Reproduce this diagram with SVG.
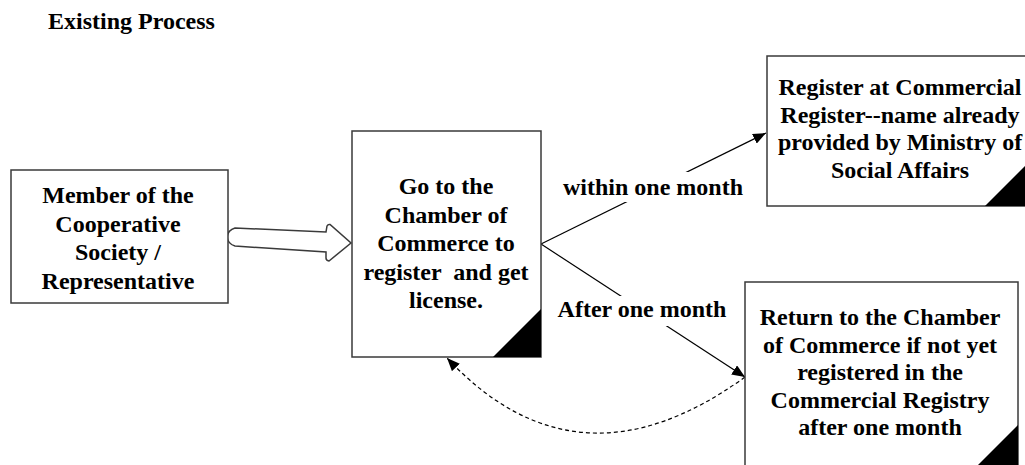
<svg xmlns="http://www.w3.org/2000/svg" width="1025" height="465" viewBox="0 0 1025 465">
  <style>
    text { font-family: "Liberation Serif", Tinos, "Times New Roman", Times, "DejaVu Serif", serif; font-weight: 700; fill: #000; }
    .t { font-size: 24px; text-anchor: middle; white-space: pre; }
    .title { font-size: 24px; }
    .box { fill: #fff; stroke: #3a3a3a; stroke-width: 1.5; }
    .fold { fill: #000; }
    .link { fill: none; stroke: #000; stroke-width: 1.2; }
    .dash { fill: none; stroke: #000; stroke-width: 1.2; stroke-dasharray: 4 3; }
    .bg { fill: #fff; }
  </style>
  <defs>
    <marker id="head" viewBox="0 0 12 10" refX="12" refY="5" markerWidth="13" markerHeight="11" markerUnits="userSpaceOnUse" orient="auto">
      <path d="M0,0 L12,5 L0,10 Z" fill="#000"/>
    </marker>
  </defs>

  <text class="title" x="48" y="29" font-family="Liberation Serif">Existing Process</text>

  <!-- connectors -->
  <g id="connectors">
    <path class="box" d="M235,228 L326,232 L327,226 Q328,224 330,224.5 L351,243 L329,261 Q326,260.5 326,258 L326,252 L235,246 Q228,244 227,237 Q228,230 235,228 Z"/>
    <line class="link" x1="541" y1="244" x2="766" y2="133" marker-end="url(#head)"/>
    <line class="link" x1="541" y1="244" x2="745" y2="377" marker-end="url(#head)"/>
    <path class="dash" d="M745,377 Q578,498 447,358" marker-end="url(#head)"/>
    <rect class="bg" x="560" y="172" width="186" height="30"/>
    <text class="t" x="653" y="195">within one month</text>
    <rect class="bg" x="555" y="296" width="176" height="30"/>
    <text class="t" x="642" y="317">After one month</text>
  </g>

  <g id="member">
    <rect class="box" x="11" y="170" width="217" height="133"/>
    <text class="t" x="118" y="203">Member of the</text>
    <text class="t" x="118" y="231.5">Cooperative</text>
    <text class="t" x="118" y="260">Society /</text>
    <text class="t" x="118" y="288.5">Representative</text>
  </g>

  <g id="chamber">
    <rect class="box" x="352" y="131" width="189" height="226"/>
    <path class="fold" d="M493,357 L541,309 L541,357 Z"/>
    <text class="t" x="446" y="194">Go to the</text>
    <text class="t" x="446" y="222.5">Chamber of</text>
    <text class="t" x="446" y="251">Commerce to</text>
    <text class="t" x="446" y="279.5">register  and get</text>
    <text class="t" x="446" y="308">license.</text>
  </g>

  <g id="register">
    <rect class="box" x="767" y="56" width="260" height="150"/>
    <path class="fold" d="M985,206 L1025,166 L1025,206 Z"/>
    <text class="t" x="900" y="95">Register at Commercial</text>
    <text class="t" x="900" y="122.5">Register--name already</text>
    <text class="t" x="900" y="150">provided by Ministry of</text>
    <text class="t" x="900" y="177.5">Social Affairs</text>
  </g>

  <g id="return">
    <rect class="box" x="745" y="282" width="273" height="186"/>
    <path class="fold" d="M975,468 L1018,425 L1018,468 Z"/>
    <text class="t" x="880" y="325">Return to the Chamber</text>
    <text class="t" x="880" y="352.5">of Commerce if not yet</text>
    <text class="t" x="880" y="380">registered in the</text>
    <text class="t" x="880" y="407.5">Commercial Registry</text>
    <text class="t" x="880" y="435">after one month</text>
  </g>
</svg>
